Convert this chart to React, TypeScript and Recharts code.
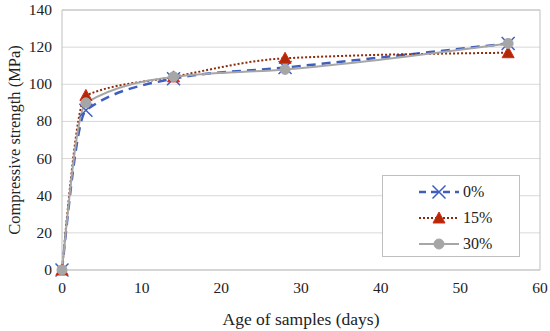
import React from 'react';
import { LineChart, Line, XAxis, YAxis, CartesianGrid, ReferenceLine } from 'recharts';

const days = [0, 3, 14, 28, 56];
const strength0 = [0, 86, 103, 109, 122];
const strength15 = [0, 94, 104, 114, 117];
const strength30 = [0, 90, 104, 108, 122];
const xTicks = [0, 10, 20, 30, 40, 50, 60];
const yTicks = [0, 20, 40, 60, 80, 100, 120, 140];

const data = days.map((d, i) => ({
  day: d,
  s0: strength0[i],
  s15: strength15[i],
  s30: strength30[i],
}));

const FONT = '"Liberation Serif", "DejaVu Serif", serif';
const BLUE = '#3F5FBF';
const BROWN = '#8B2A0A';
const GREY = '#A6A6A6';

const Cross = (props: any) => {
  const { cx, cy } = props;
  if (cx == null || cy == null) return null;
  const s = 6.5;
  return (
    <g>
      <line x1={cx - s} y1={cy - s} x2={cx + s} y2={cy + s} stroke={BLUE} strokeWidth={1.5} />
      <line x1={cx - s} y1={cy + s} x2={cx + s} y2={cy - s} stroke={BLUE} strokeWidth={1.5} />
    </g>
  );
};

const Tri = (props: any) => {
  const { cx, cy } = props;
  if (cx == null || cy == null) return null;
  const s = 6;
  return (
    <polygon
      points={`${cx},${cy - s} ${cx + s},${cy + s - 1} ${cx - s},${cy + s - 1}`}
      fill="#B02A05"
      stroke="#D8261A"
      strokeWidth={1}
    />
  );
};

const Dot = (props: any) => {
  const { cx, cy } = props;
  if (cx == null || cy == null) return null;
  return <circle cx={cx} cy={cy} r={5} fill={GREY} stroke={GREY} />;
};

const XTick = (props: any) => {
  const { x, y, payload } = props;
  return (
    <text x={x} y={y + 15} textAnchor="middle" fontFamily={FONT} fontSize={15.5} fill="#222">
      {payload.value}
    </text>
  );
};

const YTick = (props: any) => {
  const { x, y, payload } = props;
  return (
    <text x={x - 2} y={y + 5} textAnchor="end" fontFamily={FONT} fontSize={15.5} fill="#222">
      {payload.value}
    </text>
  );
};

const legendItems = [
  { label: '0%', color: BLUE, dash: '7 5', marker: 'x' },
  { label: '15%', color: BROWN, dash: '2 2', marker: 't' },
  { label: '30%', color: GREY, dash: undefined, marker: 'o' },
];

const LegendBox = () => (
  <div
    style={{
      position: 'absolute',
      left: 382,
      top: 175,
      width: 138,
      height: 82,
      border: '1px solid #BFBFBF',
      background: '#fff',
      boxSizing: 'border-box',
      paddingTop: 3,
      fontFamily: FONT,
      fontSize: 16,
      color: '#222',
    }}
  >
    {legendItems.map((it) => (
      <div key={it.label} style={{ display: 'flex', alignItems: 'center', height: 26, paddingLeft: 34 }}>
        <svg width={44} height={14}>
          <line x1={2} y1={7} x2={42} y2={7} stroke={it.color} strokeWidth={it.marker === 'x' ? 2.5 : 2} strokeDasharray={it.dash} />
          {it.marker === 'x' && <Cross cx={22} cy={7} />}
          {it.marker === 't' && <Tri cx={22} cy={7} />}
          {it.marker === 'o' && <Dot cx={22} cy={7} />}
        </svg>
        <span style={{ marginLeft: 2 }}>{it.label}</span>
      </div>
    ))}
  </div>
);

export default function App() {
  return (
    <div style={{ position: 'absolute', left: 0, top: 0, width: 550, height: 331, background: '#fff', fontFamily: FONT }}>
      <LineChart width={550} height={331} data={data} margin={{ top: 10, right: 10, left: 0, bottom: 0 }}>
        <CartesianGrid horizontal={true} vertical={false} stroke="#D9D9D9" />
        <XAxis
          dataKey="day"
          type="number"
          domain={[0, 60]}
          ticks={xTicks}
          height={61}
          tickLine={false}
          axisLine={{ stroke: '#BFBFBF' }}
          tick={<XTick />}
          label={{ value: 'Age of samples (days)', position: 'insideBottom', offset: 6, style: { fontFamily: FONT, fontSize: 17.5, fill: '#222' } }}
        />
        <YAxis
          type="number"
          domain={[0, 140]}
          ticks={yTicks}
          width={62}
          tickLine={false}
          axisLine={{ stroke: '#BFBFBF' }}
          tick={<YTick />}
          label={{ value: 'Compressive strength (MPa)', angle: -90, position: 'insideLeft', offset: 14, style: { textAnchor: 'middle', fontFamily: FONT, fontSize: 16.5, fill: '#222' } }}
        />
        <ReferenceLine x={60} stroke="#BFBFBF" />
        <ReferenceLine y={140} stroke="#BFBFBF" />
        <Line type="monotone" dataKey="s0" name="0%" stroke={BLUE} strokeWidth={2.5} strokeDasharray="9 6" dot={<Cross />} isAnimationActive={false} />
        <Line type="monotone" dataKey="s15" name="15%" stroke={BROWN} strokeWidth={2} strokeDasharray="2 2" dot={<Tri />} isAnimationActive={false} />
        <Line type="monotone" dataKey="s30" name="30%" stroke={GREY} strokeWidth={2} dot={<Dot />} isAnimationActive={false} />
      </LineChart>
      <LegendBox />
    </div>
  );
}
